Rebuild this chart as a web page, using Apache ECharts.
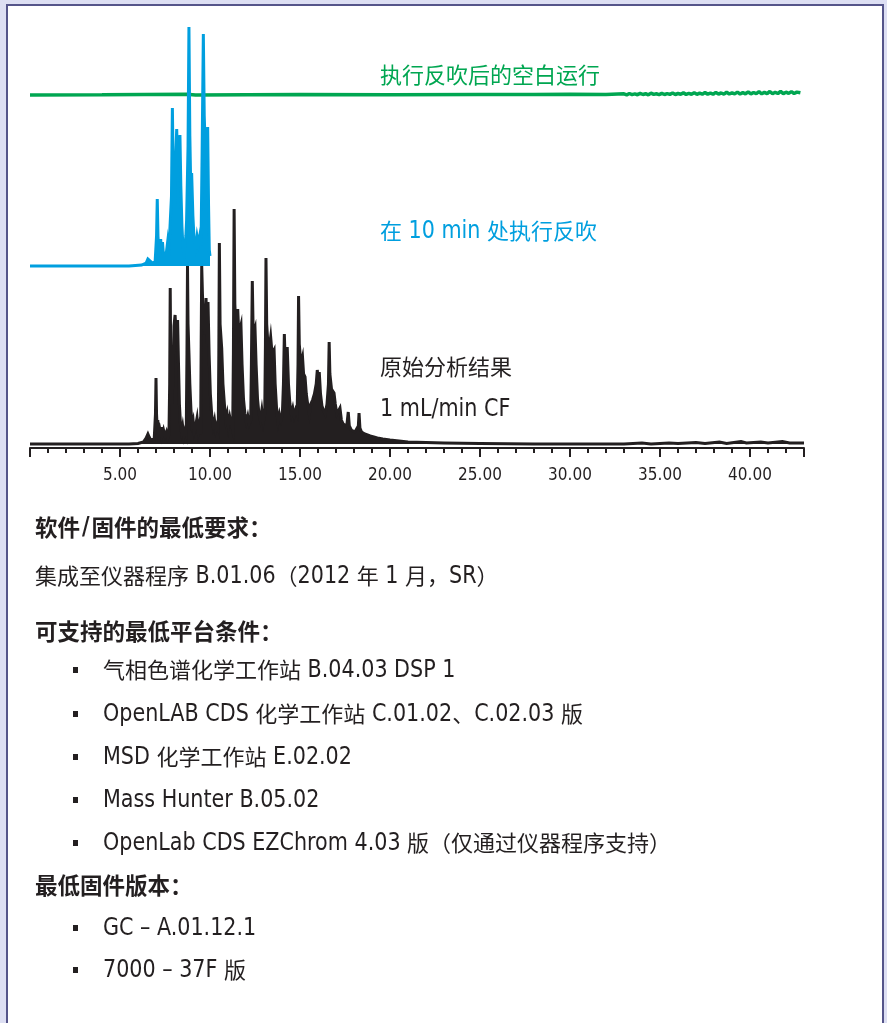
<!DOCTYPE html>
<html>
<head>
<meta charset="utf-8">
<script src="https://cdn.jsdelivr.net/npm/echarts@6/dist/echarts.min.js"></script>
<style>
  html, body { margin: 0; padding: 0; }
  #page { position: relative; width: 887px; height: 1023px; background: #dddff3; overflow: hidden; }
  #frame { position: absolute; left: 6px; top: 4px; width: 874px; height: 1040px; background: #fff; border: 2px solid #55558a; }
  #chart { position: absolute; left: 0; top: 0; width: 887px; height: 1023px; }
</style>
</head>
<body>
<div id="page">
  <div id="frame"></div>
  <div id="chart"></div>
</div>
<script>
// ---- chromatogram traces: [retention time (min), detector response] ----
const blankRun = [
  [0,0],[4,0.3],[8.7,0.8],[9.2,0],[15,0.5],[20,0.3],[25,0.6],[28,0.4],[30,0.8],[32,0.5],
  [33,1.2],[33.15,0.2],[33.3,1.5],[33.45,0.4],[33.6,1.1],[33.75,0.3],[33.9,1.6],[34.05,0.5],
  [34.2,1.3],[34.35,0.2],[34.5,1.8],[34.65,0.6],[34.8,1.2],[34.95,0.4],[35.1,1.7],[35.25,0.5],
  [35.4,1.4],[35.55,0.6],[35.7,2.0],[35.85,0.5],[36,1.5],[36.15,0.7],[36.3,2.1],[36.45,0.6],
  [36.6,1.6],[36.75,0.8],[36.9,2.3],[37.05,0.7],[37.2,1.8],[37.35,0.8],[37.5,2.4],[37.65,0.9],
  [37.8,1.9],[37.95,0.8],[38.1,2.6],[38.25,1.0],[38.4,2.0],[38.55,0.9],[38.7,2.8],[38.85,1.0],
  [39,2.2],[39.15,1.1],[39.3,2.9],[39.45,1.0],[39.6,2.4],[39.75,1.2],[39.9,3.1],[40.05,1.1],
  [40.2,2.5],[40.35,1.3],[40.5,3.3],[40.65,1.2],[40.8,2.6],[40.95,1.4],[41.1,3.5],[41.25,1.3],
  [41.4,2.7],[41.55,1.5],[41.7,3.6],[41.85,1.4],[42,2.8],[42.15,1.6],[42.3,3.4],[42.45,1.5],
  [42.6,2.9],[42.8,2.2]
];

const backflushRun = [
  [0,0],[3,0],[5.5,0],[6.2,1],[6.45,3],[6.55,7],[6.61,9],[6.68,5],[6.8,3],[6.95,4],
  [7.03,30],[7.07,67],[7.11,30],[7.16,14],[7.22,20],[7.26,27],[7.3,14],[7.36,24],[7.42,10],[7.5,8],
  [7.58,14],[7.64,23],[7.7,10],[7.78,8],
  [7.86,70],[7.91,158],[7.96,90],[8.03,60],[8.1,110],[8.15,137],[8.2,100],[8.27,110],[8.33,131],
  [8.38,80],[8.44,40],[8.5,18],[8.56,12],[8.62,10],[8.66,30],[8.7,46],
  [8.78,120],[8.83,239],[8.88,130],[8.93,80],[8.98,93],[9.05,50],[9.12,25],[9.2,18],[9.28,30],
  [9.36,22],[9.44,31],[9.5,20],
  [9.56,110],[9.63,232],[9.68,150],[9.75,110],[9.82,120],[9.87,139],[9.92,60],[9.96,16],[10.0,10]
];

const originalRun = [
  [0,0],[2,0],[4,0],[5.5,0],[6.0,0.5],[6.3,2],[6.45,6],[6.55,10],[6.62,7],[6.7,4],[6.8,3],[6.9,5],
  [6.97,30],[7.0,66],[7.03,30],[7.07,14],[7.1,24],[7.13,12],[7.2,16],[7.27,10],[7.3,17],[7.35,9],
  [7.42,14],[7.5,8],[7.58,12],[7.65,6],[7.72,10],
  [7.76,60],[7.79,156],[7.82,80],[7.88,40],[7.95,70],[8.0,118],[8.06,129],[8.12,110],[8.2,124],
  [8.25,80],[8.3,40],[8.36,20],[8.42,12],[8.48,18],[8.55,8],[8.62,14],[8.68,10],
  [8.72,90],[8.75,178],[8.78,120],[8.83,91],[8.88,60],[8.94,35],[9.0,20],[9.06,24],[9.12,12],
  [9.2,18],[9.28,26],[9.35,12],[9.42,20],[9.48,10],
  [9.51,100],[9.54,178],[9.58,150],[9.65,120],[9.72,110],[9.78,146],[9.84,100],[9.89,142],
  [9.95,90],[10.02,50],[10.1,28],[10.18,18],[10.25,24],[10.32,14],[10.4,20],[10.46,16],
  [10.49,90],[10.52,201],[10.56,120],[10.65,96],[10.72,60],[10.8,40],[10.88,24],[10.95,30],
  [11.02,18],[11.1,27],[11.18,20],[11.26,14],
  [11.3,90],[11.34,235],[11.38,140],[11.45,110],[11.54,135],[11.6,110],[11.72,119],[11.78,80],
  [11.86,45],[11.94,30],[12.02,22],[12.1,28],[12.18,20],[12.26,24],
  [12.3,80],[12.35,163],[12.4,110],[12.5,116],[12.56,80],[12.64,45],[12.72,30],[12.8,24],
  [12.88,34],[12.96,22],[13.04,30],
  [13.08,100],[13.11,186],[13.15,120],[13.25,90],[13.37,107],[13.45,90],[13.56,94],[13.62,60],
  [13.7,35],[13.78,22],[13.86,30],[13.94,24],[14.02,30],
  [14.08,60],[14.13,110],[14.18,80],[14.29,97],[14.36,60],[14.44,40],[14.52,30],[14.6,36],
  [14.68,28],[14.76,34],[14.84,30],
  [14.89,80],[14.92,148],[14.96,100],[15.05,80],[15.14,87],[15.2,70],[15.28,67],[15.35,50],
  [15.44,38],[15.52,30],[15.6,40],[15.7,44],[15.8,50],
  [15.9,60],[15.96,74],[16.02,62],[16.07,72],[16.14,50],[16.22,38],[16.3,34],[16.4,30],[16.5,40],
  [16.58,60],[16.62,102],[16.66,70],[16.75,55],[16.89,51],[16.96,40],[17.05,30],[17.14,28],
  [17.22,36],[17.3,24],[17.4,20],[17.5,22],[17.6,18],[17.68,32],[17.74,18],[17.85,14],[17.95,16],
  [18.05,12],[18.15,14],[18.24,18],[18.28,31],[18.33,16],[18.42,12],[18.52,14],[18.6,10],
  [18.75,9],[18.9,8],[19.1,7],[19.3,6],[19.6,5],[20,4],[20.5,3],[21,2],[22,1.5],[23,1],[25,0.5],
  [28,0],[33,0],[34,1],[34.5,0],[35.5,1],[36,0.5],[37,1.5],[37.5,0.5],[38.3,2],[38.7,0.5],
  [39.5,2.5],[39.8,1],[40.6,2],[41,1],[41.8,2.5],[42.2,1],[43,1]
];

// ---- texts ----
const traceLabels = ['执行反吹后的空白运行', '在 10 min 处执行反吹', '原始分析结果', '1 mL/min CF'];
const softwareHeading = '软件/固件的最低要求：';
const softwareLine = '集成至仪器程序 B.01.06（2012 年 1 月，SR）';
const platformHeading = '可支持的最低平台条件：';
const platformItems = [
  '气相色谱化学工作站 B.04.03 DSP 1',
  'OpenLAB CDS 化学工作站 C.01.02、C.02.03 版',
  'MSD 化学工作站 E.02.02',
  'Mass Hunter B.05.02',
  'OpenLab CDS EZChrom 4.03 版（仅通过仪器程序支持）'
];
const firmwareHeading = '最低固件版本：';
const firmwareItems = ['GC – A.01.12.1', '7000 – 37F 版'];

// ---- styling ----
const GREEN = '#00a651', BLUE = '#009fdf', INK = '#231f20';
const CJK_FONT = "'Noto Sans CJK SC', sans-serif";
const LATIN_FONT = "'Liberation Sans Narrow', 'DejaVu Sans Condensed', 'Roboto', sans-serif";

// mixed-script text: CJK and Latin runs get their own font (Latin slightly narrowed),
// all runs of a line share the same middle line
const measureCtx = document.createElement('canvas').getContext('2d');
const isCJK = ch => /[\u2E80-\u9FFF\u3000-\u303F\uFF00-\uFFEF]/.test(ch);
function splitRuns(str) {
  const out = [];
  for (const ch of str) {
    const c = isCJK(ch);
    if (out.length && out[out.length - 1].cjk === c) out[out.length - 1].s += ch;
    else out.push({ cjk: c, s: ch });
  }
  return out;
}
function textLine(str, x, y, o) {
  const els = [];
  let cx = x;
  for (const r of splitRuns(str)) {
    const size = r.cjk ? o.cjkSize : o.latinSize;
    const sx = r.cjk ? 1 : o.latinScale;
    const font = `${o.weight || 'normal'} ${size}px ${r.cjk ? CJK_FONT : LATIN_FONT}`;
    measureCtx.font = font;
    const pad = (!r.cjk && o.latinPad) ? o.latinPad : 0;
    els.push({
      type: 'text', x: cx + pad, y: y, scaleX: sx, z: 10, silent: true,
      style: { text: r.s, font: font, fill: o.color, align: 'left', verticalAlign: 'middle' }
    });
    cx += measureCtx.measureText(r.s).width * sx + pad * 2;
  }
  return els;
}

const graphics = [];
const labelFont = { cjkSize: 22, latinSize: 25, latinScale: 0.92 };
graphics.push(...textLine(traceLabels[0], 380, 75, { ...labelFont, color: GREEN }));
graphics.push(...textLine(traceLabels[1], 380, 231, { ...labelFont, color: BLUE }));
graphics.push(...textLine(traceLabels[2], 380, 367, { ...labelFont, color: INK }));
graphics.push(...textLine(traceLabels[3], 380, 409, { ...labelFont, color: INK }));

const body = { cjkSize: 22, latinSize: 25, latinScale: 0.92, color: INK };
const bold = { cjkSize: 22.5, latinSize: 25, latinScale: 0.92, latinPad: 2, color: INK, weight: 'bold' };
function bullet(y) {
  return { type: 'rect', z: 10, silent: true, shape: { x: 73, y: y - 3, width: 5, height: 6 }, style: { fill: INK } };
}
graphics.push(...textLine(softwareHeading, 35, 527, bold));
graphics.push(...textLine(softwareLine, 35, 576, body));
graphics.push(...textLine(platformHeading, 35, 631, bold));
const platformRows = [670, 714, 757, 800, 843];
platformItems.forEach((s, i) => {
  graphics.push(bullet(platformRows[i]));
  graphics.push(...textLine(s, 103, platformRows[i], body));
});
graphics.push(...textLine(firmwareHeading, 35, 885, bold));
const firmwareRows = [928, 970];
firmwareItems.forEach((s, i) => {
  graphics.push(bullet(firmwareRows[i]));
  graphics.push(...textLine(s, 103, firmwareRows[i], body));
});

// ---- chart: three stacked traces sharing one time scale ----
const X_MIN = 0, X_MAX = 43;
const gridX = { left: 30, right: 83 };
const hiddenX = gi => ({ gridIndex: gi, type: 'value', min: X_MIN, max: X_MAX, show: false });
const hiddenY = (gi, min, max) => ({ gridIndex: gi, type: 'value', min: min, max: max, show: false });

const chart = echarts.init(document.getElementById('chart'), null, { renderer: 'canvas' });
chart.setOption({
  backgroundColor: 'transparent',
  animation: false,
  grid: [
    { ...gridX, bottom: 575, height: 264 },   // original analysis (with time axis)
    { ...gridX, bottom: 757, height: 260 },   // backflush at 10 min
    { ...gridX, bottom: 928, height: 80 }     // blank run after backflush
  ],
  xAxis: [
    {
      gridIndex: 0, type: 'value', min: X_MIN, max: X_MAX, interval: 1,
      axisLine: { show: true, onZero: false, lineStyle: { color: INK, width: 2 } },
      axisTick: { show: true, length: 5, lineStyle: { color: INK, width: 2 } },
      axisLabel: { show: false }, splitLine: { show: false }
    },
    {
      gridIndex: 0, type: 'value', position: 'bottom', min: X_MIN, max: X_MAX, interval: 5,
      axisLine: { show: false, onZero: false },
      axisTick: { show: true, length: 9, lineStyle: { color: INK, width: 2 } },
      axisLabel: {
        show: true, margin: 19, color: INK, fontSize: 17, fontFamily: LATIN_FONT,
        formatter: v => (v > 0 && v % 5 === 0) ? v.toFixed(2) : ''
      },
      splitLine: { show: false }
    },
    hiddenX(1),
    hiddenX(2)
  ],
  yAxis: [hiddenY(0, -4, 260), hiddenY(1, 0, 260), hiddenY(2, 0, 80)],
  graphic: graphics,
  series: [
    {
      type: 'line', name: '执行反吹后的空白运行', xAxisIndex: 3, yAxisIndex: 2, z: 2,
      data: blankRun, showSymbol: false, clip: false,
      lineStyle: { color: GREEN, width: 3.5 }
    },
    {
      type: 'line', name: '原始分析结果', xAxisIndex: 0, yAxisIndex: 0, z: 3,
      data: originalRun, showSymbol: false, clip: false,
      lineStyle: { color: INK, width: 3, join: 'miter' },
      areaStyle: { color: INK, opacity: 1 }
    },
    {
      type: 'line', name: '在 10 min 处执行反吹', xAxisIndex: 2, yAxisIndex: 1, z: 4,
      data: backflushRun, showSymbol: false, clip: false,
      lineStyle: { color: BLUE, width: 3, join: 'miter' },
      areaStyle: { color: BLUE, opacity: 1 }
    }
  ]
});
</script>
</body>
</html>
